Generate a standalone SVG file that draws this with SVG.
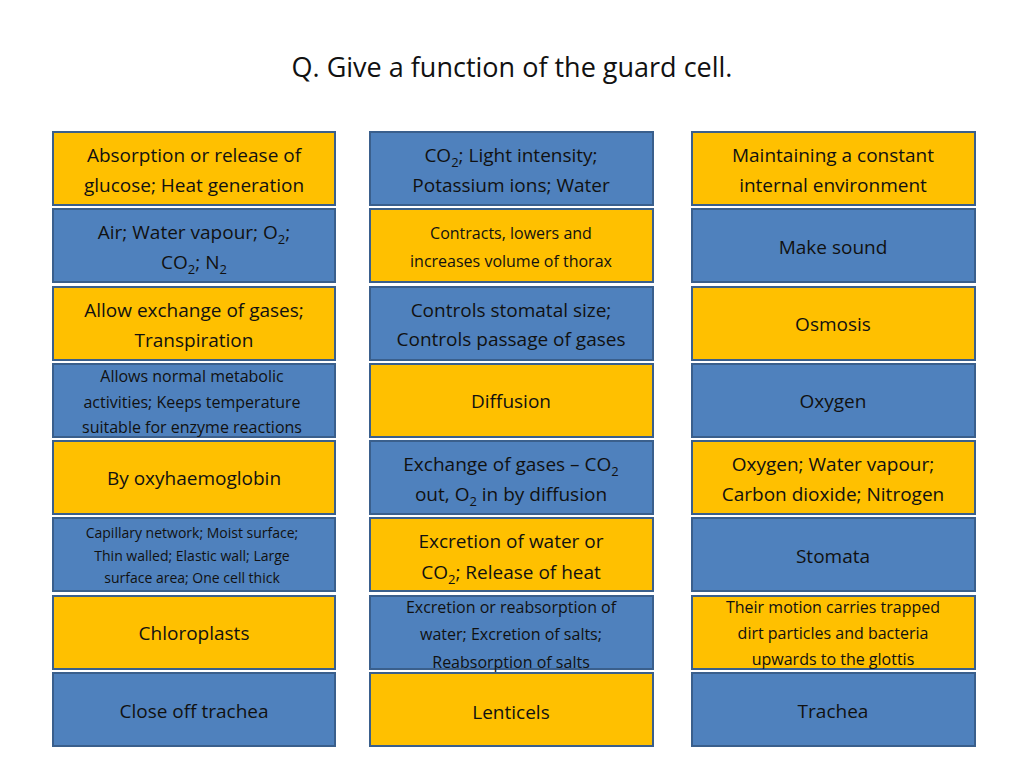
<svg xmlns="http://www.w3.org/2000/svg" width="1024" height="768" viewBox="0 0 1024 768">
<style>
.y{fill:#FFC000;stroke:#3A5F8C;stroke-width:2}
.b{fill:#4F81BD;stroke:#3A5F8C;stroke-width:2}
text{font-family:"Open Sans","Liberation Sans",sans-serif;fill:#111;text-anchor:middle}
.t{font-size:19px}
.s{font-size:16px}
.xs{font-size:14px}
.sub{font-size:13px;baseline-shift:-5px}
</style>
<rect width="1024" height="768" fill="#fff"/>
<text x="512" y="77" style="font-size:27px">Q. Give a function of the guard cell.</text>
<g id="c1">
<g id="n11"><rect class="y" x="53" y="132" width="282" height="73"/><text class="t" x="194" y="162">Absorption or release of</text><text class="t" x="194" y="192">glucose; Heat generation</text></g>
<g id="n12"><rect class="b" x="53" y="209" width="282" height="73"/><text class="t" x="194" y="239">Air; Water vapour; O<tspan class="sub">2</tspan>;</text><text class="t" x="194" y="269">CO<tspan class="sub">2</tspan>; N<tspan class="sub">2</tspan></text></g>
<g id="n13"><rect class="y" x="53" y="287" width="282" height="73"/><text class="t" x="194" y="317">Allow exchange of gases;</text><text class="t" x="194" y="347">Transpiration</text></g>
<g id="n14"><rect class="b" x="53" y="364" width="282" height="73"/><text class="s" x="192" y="382">Allows normal metabolic</text><text class="s" x="192" y="408">activities; Keeps temperature</text><text class="s" x="192" y="433">suitable for enzyme reactions</text></g>
<g id="n15"><rect class="y" x="53" y="441" width="282" height="73"/><text class="t" x="194" y="485">By oxyhaemoglobin</text></g>
<g id="n16"><rect class="b" x="53" y="518" width="282" height="73"/><text class="xs" x="192" y="538">Capillary network; Moist surface;</text><text class="xs" x="192" y="561">Thin walled; Elastic wall; Large</text><text class="xs" x="192" y="583">surface area; One cell thick</text></g>
<g id="n17"><rect class="y" x="53" y="596" width="282" height="73"/><text class="t" x="194" y="640">Chloroplasts</text></g>
<g id="n18"><rect class="b" x="53" y="673" width="282" height="73"/><text class="t" x="194" y="718">Close off trachea</text></g>
</g>
<g id="c2">
<g id="n21"><rect class="b" x="370" y="132" width="283" height="73"/><text class="t" x="511" y="162">CO<tspan class="sub">2</tspan>; Light intensity;</text><text class="t" x="511" y="192">Potassium ions; Water</text></g>
<g id="n22"><rect class="y" x="370" y="209" width="283" height="73"/><text class="s" x="511" y="239">Contracts, lowers and</text><text class="s" x="511" y="267">increases volume of thorax</text></g>
<g id="n23"><rect class="b" x="370" y="287" width="283" height="73"/><text class="t" x="511" y="317">Controls stomatal size;</text><text class="t" x="511" y="346">Controls passage of gases</text></g>
<g id="n24"><rect class="y" x="370" y="364" width="283" height="73"/><text class="t" x="511" y="408">Diffusion</text></g>
<g id="n25"><rect class="b" x="370" y="441" width="283" height="73"/><text class="t" x="511" y="471">Exchange of gases – CO<tspan class="sub">2</tspan></text><text class="t" x="511" y="501">out, O<tspan class="sub">2</tspan> in by diffusion</text></g>
<g id="n26"><rect class="y" x="370" y="518" width="283" height="73"/><text class="t" x="511" y="548">Excretion of water or</text><text class="t" x="511" y="579">CO<tspan class="sub">2</tspan>; Release of heat</text></g>
<g id="n27"><rect class="b" x="370" y="596" width="283" height="73"/><text class="s" x="511" y="613">Excretion or reabsorption of</text><text class="s" x="511" y="640">water; Excretion of salts;</text><text class="s" x="511" y="668">Reabsorption of salts</text></g>
<g id="n28"><rect class="y" x="370" y="673" width="283" height="73"/><text class="t" x="511" y="719">Lenticels</text></g>
</g>
<g id="c3">
<g id="n31"><rect class="y" x="692" y="132" width="283" height="73"/><text class="t" x="833" y="162">Maintaining a constant</text><text class="t" x="833" y="192">internal environment</text></g>
<g id="n32"><rect class="b" x="692" y="209" width="283" height="73"/><text class="t" x="833" y="254">Make sound</text></g>
<g id="n33"><rect class="y" x="692" y="287" width="283" height="73"/><text class="t" x="833" y="331">Osmosis</text></g>
<g id="n34"><rect class="b" x="692" y="364" width="283" height="73"/><text class="t" x="833" y="408">Oxygen</text></g>
<g id="n35"><rect class="y" x="692" y="441" width="283" height="73"/><text class="t" x="833" y="471">Oxygen; Water vapour;</text><text class="t" x="833" y="501">Carbon dioxide; Nitrogen</text></g>
<g id="n36"><rect class="b" x="692" y="518" width="283" height="73"/><text class="t" x="833" y="563">Stomata</text></g>
<g id="n37"><rect class="y" x="692" y="596" width="283" height="73"/><text class="s" x="833" y="613">Their motion carries trapped</text><text class="s" x="833" y="639">dirt particles and bacteria</text><text class="s" x="833" y="665">upwards to the glottis</text></g>
<g id="n38"><rect class="b" x="692" y="673" width="283" height="73"/><text class="t" x="833" y="718">Trachea</text></g>
</g>
<g id="connectors"/>
</svg>
